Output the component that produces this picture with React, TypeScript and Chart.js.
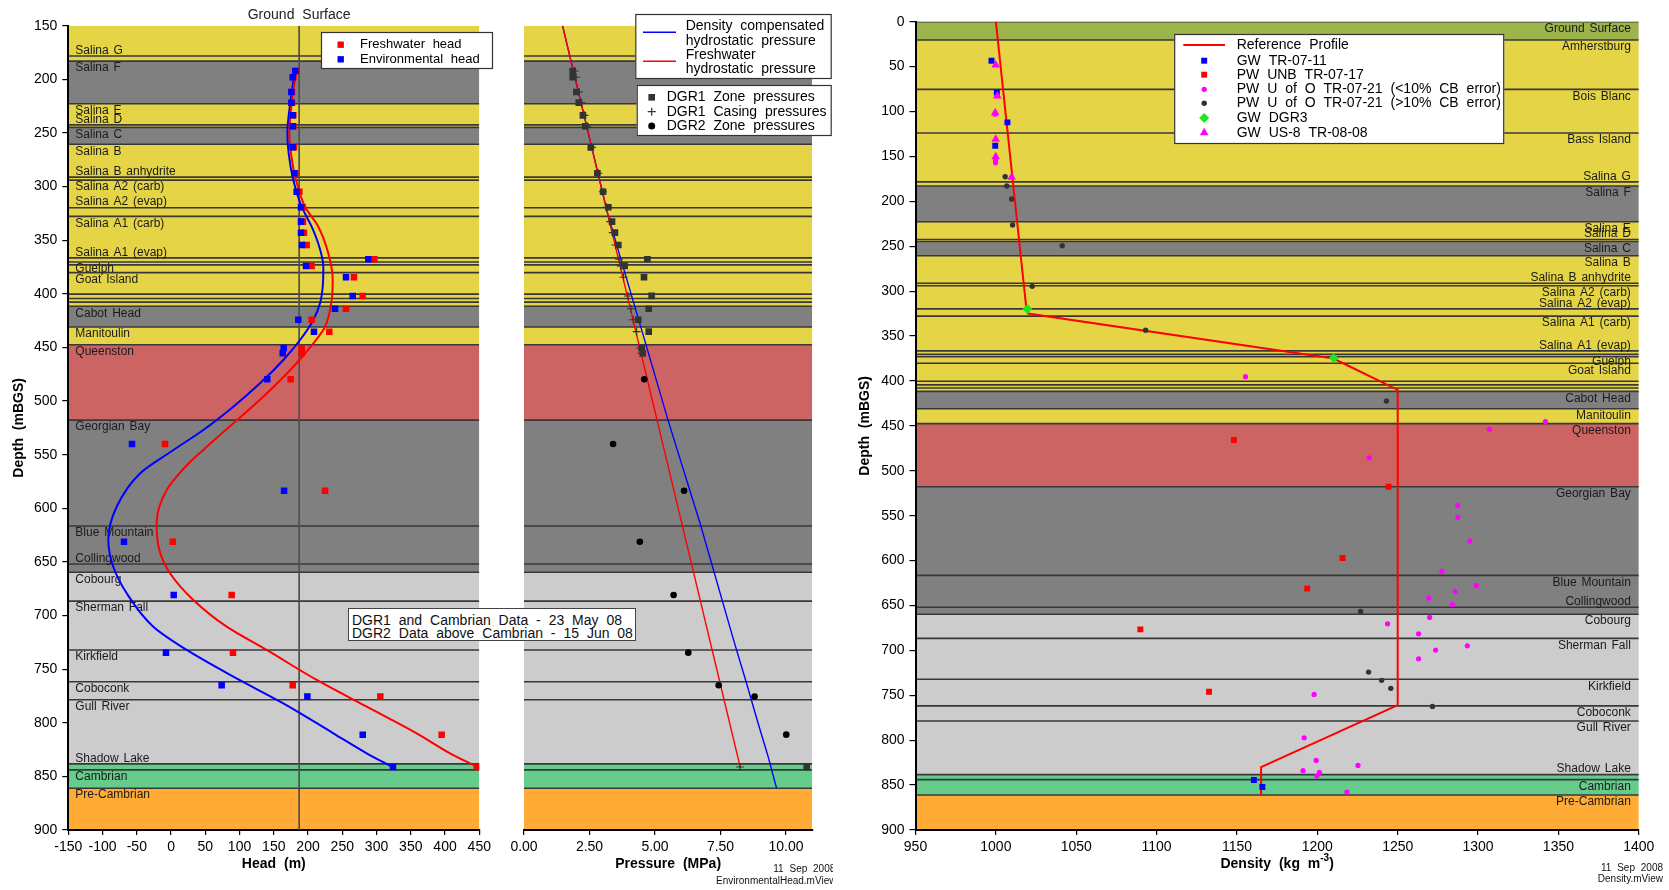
import React, { useEffect, useRef } from 'react';
import { Chart, registerables } from 'chart.js';

Chart.register(...registerables);

const FONT = '"Liberation Sans", Arial, Helvetica, sans-serif';
Chart.defaults.font.family = FONT;
Chart.defaults.color = '#111';

// ---------------- Stratigraphy (depth of layer top, mBGS) ----------------
const layerNames = ['Ground Surface', 'Amherstburg', 'Bois Blanc', 'Bass Island', 'Salina G', 'Salina F', 'Salina E', 'Salina D', 'Salina C', 'Salina B', 'Salina B anhydrite', 'Salina A2 (carb)', 'Salina A2 (evap)', 'Salina A1 (carb)', 'Salina A1 (evap)', 'Guelph', '', 'Goat Island', '', '', '', 'Cabot Head', 'Manitoulin', 'Queenston', 'Georgian Bay', 'Blue Mountain', 'Collingwood', 'Cobourg', 'Sherman Fall', 'Kirkfield', 'Coboconk', 'Gull River', 'Shadow Lake', 'Cambrian', 'Pre-Cambrian'];
const layerTops = [0, 20.4, 75.3, 124, 178.3, 183, 222.8, 242.5, 244.8, 260.6, 291.2, 294, 319.7, 327.8, 366.5, 370.4, 373, 380.3, 400.3, 404.4, 407.8, 411.6, 431, 447.5, 517.8, 616.5, 651.9, 659.7, 686.6, 732.1, 761.8, 778.6, 838.3, 843.9, 861];
const layerRock = ['surface', 'dolostone', 'dolostone', 'dolostone', 'dolostone', 'shale', 'dolostone', 'dolostone', 'shale', 'dolostone', 'dolostone', 'dolostone', 'dolostone', 'dolostone', 'dolostone', 'dolostone', 'dolostone', 'dolostone', 'dolostone', 'dolostone', 'dolostone', 'shale', 'dolostone', 'redshale', 'shale', 'shale', 'shale', 'limestone', 'limestone', 'limestone', 'limestone', 'limestone', 'sandstone', 'sandstone', 'precambrian'];

// ---------------- Head panel ----------------
const headAxisRange = [-150, 450];
const headDepthRange = [150, 900];
const groundSurfaceHead = 187;
const headDepths = [192.2, 198.1, 211.8, 221.8, 233.6, 243.8, 263.4, 287.6, 304.8, 319.3, 332.7, 343.0, 354.5, 367.8, 374.0, 384.6, 402.0, 413.9, 424.2, 435.3, 450.5, 455.5, 479.7, 540.0, 583.6, 631.2, 680.9, 734.6, 765.0, 775.6, 811.1, 841.3];
const freshwaterHead = [183.4, 178.5, 176.6, 176.6, 178.5, 178.5, 179.5, 181.5, 187.3, 192.2, 192.6, 194.0, 198.0, 296.8, 205.2, 267.0, 279.7, 255.4, 205.2, 231.0, 190.7, 190.7, 174.6, -8.8, 224.8, 2.4, 88.5, 90.4, 177.6, 305.5, 395.1, 446.2];
const environmentalHead = [181.4, 177.6, 175.6, 175.6, 177.6, 177.6, 177.6, 180.0, 183.4, 189.7, 189.7, 189.7, 191.2, 288.0, 197.0, 255.4, 265.2, 239.4, 185.8, 208.7, 164.4, 163.0, 140.5, -57.0, 165.0, -68.7, 3.9, -7.4, 73.9, 199.0, 279.8, 324.0];
const envCurveDepth = [191.3, 219.3, 250.3, 269, 293.9, 318.8, 337.4, 356.1, 374.7, 393.4, 408.9, 424.4, 443.1, 461.7, 483.5, 505.3, 527, 548, 567.5, 598.6, 629.6, 654.5, 679.3, 710.4, 732.1, 757, 781.9, 809.8, 828.5, 840.9];
const envCurveHead = [181, 174.6, 169.8, 171.7, 178.5, 190.7, 205.3, 216.4, 222.3, 221.4, 217.5, 207.7, 188.3, 163.9, 129.9, 90.9, 47.1, -2, -45.3, -79.4, -91.6, -84.3, -64.7, -25.9, 22.9, 90.9, 163.9, 236.9, 285.6, 322.1];
const fwCurveDepth = [191.3, 219.3, 250.3, 269, 293.9, 318.8, 337.4, 362.3, 387.2, 405.8, 430.7, 446.2, 468, 492.9, 520.8, 545.6, 558, 583, 614, 638.9, 660.6, 685.5, 710.4, 732.1, 760.1, 785, 809.8, 828.5, 840.9];
const fwCurveHead = [183.4, 176.6, 172.7, 175.1, 182.4, 195.6, 215, 229.6, 236, 234.5, 224.8, 207.7, 178.5, 139.6, 90.9, 47.1, 26, -6.4, -21, -17.1, -1.5, 32.5, 81.2, 139.6, 212.6, 285.6, 358.6, 407.3, 446.2];

// ---------------- Pressure panel ----------------
const pressureAxisRange = [0, 11];
const pressureTickMax = 10;
const fwPressureDepth = [150, 842];
const fwPressure = [1.47, 8.26];
const dcPressureDepth = [150, 325, 373, 411, 518, 614, 722, 762, 800, 830, 861];
const dcPressure = [1.47, 3.19, 3.76, 4.22, 5.50, 6.72, 7.99, 8.48, 8.93, 9.30, 9.64];
const dgr1ZoneDepth = [192.2, 198.1, 211.8, 221.8, 233.6, 243.8, 263.4, 287.6, 304.8, 319.3, 332.7, 343.0, 354.5, 367.8, 374.0, 384.6, 402.0, 413.9, 424.2, 435.3, 450.5, 455.5, 841.3];
const dgr1ZonePressure = [1.86, 1.86, 2.00, 2.09, 2.25, 2.34, 2.55, 2.80, 3.02, 3.22, 3.36, 3.47, 3.60, 4.71, 3.84, 4.58, 4.87, 4.76, 4.36, 4.76, 4.49, 4.53, 10.79];
const dgr1CasingDepth = [192.2, 198.1, 211.8, 221.8, 233.6, 243.8, 263.4, 287.6, 304.8, 319.3, 332.7, 343.0, 354.5, 367.8, 374.0, 384.6, 402.0, 413.9, 424.2, 435.3, 450.5, 455.5, 841.3];
const dgr1CasingPressure = [1.93, 1.99, 2.10, 2.20, 2.31, 2.41, 2.60, 2.84, 3.01, 3.15, 3.29, 3.39, 3.49, 3.63, 3.69, 3.80, 3.97, 4.08, 4.17, 4.30, 4.44, 4.48, 8.24];
const dgr2ZoneDepth = [479.7, 540.0, 583.6, 631.2, 680.9, 734.6, 765.0, 775.6, 811.1];
const dgr2ZonePressure = [4.59, 3.40, 6.11, 4.42, 5.71, 6.27, 7.43, 8.80, 10.01];

// ---------------- Density panel ----------------
const densityAxisRange = [950, 1400];
const densityDepthRange = [0, 900];
const refProfileDepth = [0, 320, 325, 375, 410, 761, 830, 861];
const refProfileDensity = [1000, 1019, 1020, 1210, 1250, 1250, 1165, 1165];
const gwTR0711Depth = [43.4, 79, 112.1, 138.1, 844.4, 852.2];
const gwTR0711Density = [997.3, 1000.6, 1007.2, 999.6, 1160.5, 1165.8];
const pwUNBDepth = [465.8, 517.8, 597.2, 631, 676.6, 746.1];
const pwUNBDensity = [1148.1, 1244.3, 1215.7, 1193.7, 1089.9, 1132.6];
const pwUoOLowDepth = [103, 154, 157, 395.3, 445.4, 453.9, 485.5, 538.9, 551.9, 578.3, 612, 628, 634.7, 641.8, 648.8, 663.3, 670.4, 681.5, 694.9, 699.7, 709.4, 749, 797.3, 822.5, 828.1, 834, 835.9, 840, 857.8];
const pwUoOLowDensity = [999.5, 999.8, 999.8, 1155.3, 1341.9, 1307.1, 1232.2, 1287.4, 1287.4, 1294.9, 1277.5, 1298.9, 1285.7, 1269.3, 1284.1, 1269.9, 1243.7, 1263, 1293.3, 1273.6, 1263, 1198, 1191.8, 1199.3, 1225.3, 1191.1, 1201.3, 1199.7, 1218.4];
const pwUoOHighDepth = [172.6, 183, 197.4, 226.4, 249.4, 294.7, 343.6, 422.4, 656.6, 724.2, 733.4, 742.3, 762.4];
const pwUoOHighDensity = [1005.8, 1006.8, 1009.8, 1010.4, 1041.3, 1022.6, 1093.2, 1243, 1226.9, 1231.9, 1240, 1245.7, 1271.6];
const gwDGR3Depth = [320, 374.8];
const gwDGR3Density = [1019.6, 1210.2];
const gwUS8Depth = [48.2, 82.7, 101.3, 131, 150.3, 173.3];
const gwUS8Density = [999.9, 1000.9, 999.6, 999.9, 999.9, 1009.8];

const annotationLines = ['DGR1 and Cambrian Data - 23 May 08', 'DGR2 Data above Cambrian - 15 Jun 08'];
const headStamp = ['11 Sep 2008', 'EnvironmentalHead.mView'];
const densityStamp = ['11 Sep 2008', 'Density.mView'];

// ---------------- styles ----------------
const rockColors: Record<string, string> = {
  surface: '#9DB34B',
  dolostone: '#E5D546',
  shale: '#808080',
  redshale: '#CC6464',
  limestone: '#CCCCCC',
  sandstone: '#66CC8C',
  precambrian: '#FFAB35',
};

const pts = (xs: number[], ys: number[]) => xs.map((x, i) => ({ x, y: ys[i] }));

function drawMarker(ctx: any, style: string, x: number, y: number, r: number, color: string, lw = 1.2) {
  ctx.save();
  ctx.fillStyle = color;
  ctx.strokeStyle = color;
  ctx.lineWidth = lw;
  ctx.beginPath();
  if (style === 'rect') {
    const s = r * Math.SQRT1_2;
    ctx.rect(x - s, y - s, 2 * s, 2 * s);
    ctx.fill();
  } else if (style === 'circle') {
    ctx.arc(x, y, r, 0, Math.PI * 2);
    ctx.fill();
  } else if (style === 'rectRot') {
    ctx.moveTo(x - r, y);
    ctx.lineTo(x, y - r);
    ctx.lineTo(x + r, y);
    ctx.lineTo(x, y + r);
    ctx.closePath();
    ctx.fill();
  } else if (style === 'triangle') {
    ctx.moveTo(x, y - r);
    ctx.lineTo(x + 0.866 * r, y + 0.5 * r);
    ctx.lineTo(x - 0.866 * r, y + 0.5 * r);
    ctx.closePath();
    ctx.fill();
  } else if (style === 'cross') {
    ctx.moveTo(x - r, y);
    ctx.lineTo(x + r, y);
    ctx.moveTo(x, y - r);
    ctx.lineTo(x, y + r);
    ctx.stroke();
  }
  ctx.restore();
}

function strataPlugin(labelMode: string | null) {
  return {
    id: 'strata',
    beforeDraw(chart: any) {
      const { ctx, chartArea: ca, scales } = chart;
      const y = scales.y;
      ctx.wordSpacing = '4px';
      ctx.save();
      ctx.beginPath();
      ctx.rect(ca.left, ca.top, ca.right - ca.left, ca.bottom - ca.top);
      ctx.clip();
      const n = layerTops.length;
      for (let i = 0; i < n; i++) {
        const t = layerTops[i];
        const b = i + 1 < n ? layerTops[i + 1] : y.max;
        const y0 = y.getPixelForValue(Math.max(t, y.min));
        const y1 = y.getPixelForValue(Math.min(b, y.max));
        if (y1 <= y0) continue;
        ctx.fillStyle = rockColors[layerRock[i]];
        ctx.fillRect(ca.left, y0, ca.right - ca.left, y1 - y0);
      }
      ctx.strokeStyle = '#383838';
      ctx.lineWidth = 1.6;
      for (let i = 0; i < n; i++) {
        const t = layerTops[i];
        if (t < y.min || t > y.max) continue;
        const py = y.getPixelForValue(t);
        ctx.beginPath();
        ctx.moveTo(ca.left, py);
        ctx.lineTo(ca.right, py);
        ctx.stroke();
      }
      if (labelMode) {
        ctx.font = `12px ${FONT}`;
        ctx.fillStyle = '#1a1a1a';
        ctx.textBaseline = 'middle';
        ctx.wordSpacing = '1.5px';
        ctx.textAlign = labelMode === 'left' ? 'left' : 'right';
        const lx = labelMode === 'left' ? ca.left + 7 : ca.right - 8;
        for (let i = 0; i < n; i++) {
          if (!layerNames[i]) continue;
          const t = layerTops[i];
          if (t < y.min) continue;
          let next = y.max;
          for (let j = i + 1; j < n; j++) {
            if (layerNames[j]) { next = layerTops[j]; break; }
          }
          const py = y.getPixelForValue(t);
          const ly = next - t < 9 ? py - 5.5 : py + 7;
          ctx.fillText(layerNames[i], lx, ly);
        }
      }
      ctx.restore();
    },
  };
}

const tickFont = { family: FONT, size: 14 };
const titleFont = { family: FONT, size: 14, weight: 'bold' as const };
const gridStyle = { display: true, drawOnChartArea: false, drawTicks: true, tickLength: 5, color: '#000', lineWidth: 1.2 };
const borderStyle = { display: true, color: '#000', width: 2 };

function baseOptions(padding: any) {
  return {
    responsive: false,
    animation: false as const,
    devicePixelRatio: 1,
    events: [] as any[],
    layout: { padding },
    plugins: { legend: { display: false }, tooltip: { enabled: false } },
  };
}

function makeHeadChart(canvas: HTMLCanvasElement) {
  const decor = {
    id: 'headDecor',
    afterDraw(chart: any) {
      const { ctx, scales } = chart;
      const gx = scales.x.getPixelForValue(groundSurfaceHead);
      ctx.save();
      ctx.font = `14px ${FONT}`;
      ctx.wordSpacing = '4px';
      ctx.fillStyle = '#222';
      ctx.textAlign = 'center';
      ctx.textBaseline = 'middle';
      ctx.fillText('Ground Surface', gx, 15);
      // legend
      ctx.fillStyle = '#fff';
      ctx.fillRect(321, 32, 172, 37);
      ctx.strokeStyle = '#333';
      ctx.lineWidth = 1.2;
      ctx.strokeRect(321.5, 32.5, 171, 36);
      const ds = chart.data.datasets;
      drawMarker(ctx, 'rect', 340.7, 44.7, 4.5, ds[1].backgroundColor);
      drawMarker(ctx, 'rect', 340.7, 59.3, 4.5, ds[0].backgroundColor);
      ctx.font = `13px ${FONT}`;
      ctx.fillStyle = '#000';
      ctx.textAlign = 'left';
      ctx.fillText(ds[1].label, 360, 44.7);
      ctx.fillText(ds[0].label, 360, 59.3);
      ctx.restore();
    },
  };
  return new Chart(canvas, {
    type: 'scatter',
    data: {
      datasets: [
        { label: 'Environmental head', data: pts(environmentalHead, headDepths), pointStyle: 'rect', pointRadius: 4.6, backgroundColor: '#0000FF', pointBorderWidth: 0, borderWidth: 0, order: 0 },
        { label: 'Freshwater head', data: pts(freshwaterHead, headDepths), pointStyle: 'rect', pointRadius: 4.6, backgroundColor: '#FF0000', pointBorderWidth: 0, borderWidth: 0, order: 1 },
        { type: 'line', indexAxis: 'y', label: 'Freshwater head fit', data: pts(fwCurveHead, fwCurveDepth), borderColor: '#FF0000', borderWidth: 2, pointRadius: 0, cubicInterpolationMode: 'monotone', fill: false, order: 2 },
        { type: 'line', indexAxis: 'y', label: 'Environmental head fit', data: pts(envCurveHead, envCurveDepth), borderColor: '#0000FF', borderWidth: 2, pointRadius: 0, cubicInterpolationMode: 'monotone', fill: false, order: 3 },
        { label: 'Ground Surface', data: pts([groundSurfaceHead, groundSurfaceHead], headDepthRange), showLine: true, borderColor: '#505050', borderWidth: 1.7, pointRadius: 0, order: 4 },
      ] as any,
    },
    options: {
      ...baseOptions({ left: 0, right: 20.7, top: 25.7, bottom: 0 }),
      scales: {
        x: {
          type: 'linear', position: 'bottom', min: headAxisRange[0], max: headAxisRange[1],
          ticks: { stepSize: 50, font: tickFont, color: '#000', padding: 4, autoSkip: false, maxRotation: 0, callback: (v: any) => String(v) },
          grid: gridStyle, border: borderStyle,
          title: { display: true, text: 'Head (m)', font: titleFont, color: '#000', padding: { top: 0, bottom: 17.3 } },
          afterFit: (s: any) => { s.height = 60; },
        },
        y: {
          type: 'linear', reverse: true, min: headDepthRange[0], max: headDepthRange[1],
          ticks: { stepSize: 50, font: tickFont, color: '#000', padding: 5, autoSkip: false, callback: (v: any) => String(v) },
          grid: { ...gridStyle, tickLength: 6 }, border: borderStyle,
          title: { display: true, text: 'Depth (mBGS)', font: titleFont, color: '#000', padding: { top: 10.6, bottom: 0 } },
          afterFit: (s: any) => { s.width = 68.3; },
        },
      },
    } as any,
    plugins: [strataPlugin('left'), decor],
  });
}

function makePressureChart(canvas: HTMLCanvasElement) {
  const decor = {
    id: 'pressureDecor',
    afterDraw(chart: any) {
      const { ctx } = chart;
      const ds = chart.data.datasets;
      ctx.save();
      ctx.wordSpacing = '4px';
      // legend 1
      ctx.fillStyle = '#fff';
      ctx.fillRect(145.3, 14, 196.4, 65);
      ctx.strokeStyle = '#333';
      ctx.lineWidth = 1.2;
      ctx.strokeRect(145.8, 14.5, 195.4, 64);
      ctx.lineWidth = 1.5;
      ctx.strokeStyle = ds[4].borderColor;
      ctx.beginPath(); ctx.moveTo(153, 32.3); ctx.lineTo(186, 32.3); ctx.stroke();
      ctx.strokeStyle = ds[3].borderColor;
      ctx.beginPath(); ctx.moveTo(153, 61.3); ctx.lineTo(186, 61.3); ctx.stroke();
      ctx.font = `14px ${FONT}`;
      ctx.fillStyle = '#000';
      ctx.textAlign = 'left';
      ctx.textBaseline = 'middle';
      ctx.fillText('Density compensated', 195.7, 26);
      ctx.fillText('hydrostatic pressure', 195.7, 40.7);
      ctx.fillText('Freshwater', 195.7, 55);
      ctx.fillText('hydrostatic pressure', 195.7, 69.3);
      // legend 2
      ctx.fillStyle = '#fff';
      ctx.fillRect(146.7, 85, 195, 51);
      ctx.strokeStyle = '#333';
      ctx.lineWidth = 1.2;
      ctx.strokeRect(147.2, 85.5, 194, 50);
      drawMarker(ctx, 'rect', 161.7, 97.3, 4.7, '#333333');
      drawMarker(ctx, 'cross', 161.7, 111.7, 4, '#333333', 1.2);
      drawMarker(ctx, 'circle', 161.7, 126, 3.5, '#000000');
      ctx.fillStyle = '#000';
      ctx.fillText(ds[0].label, 176.7, 97.3);
      ctx.fillText(ds[2].label, 176.7, 111.7);
      ctx.fillText(ds[1].label, 176.7, 126);
      // stamp
      ctx.font = `10px ${FONT}`;
      ctx.wordSpacing = '3px';
      ctx.fillStyle = '#111';
      ctx.fillText(headStamp[0], 283.3, 869.3);
      ctx.fillText(headStamp[1], 226, 881.7);
      ctx.restore();
    },
  };
  return new Chart(canvas, {
    type: 'scatter',
    data: {
      datasets: [
        { label: 'DGR1 Zone pressures', data: pts(dgr1ZonePressure, dgr1ZoneDepth), pointStyle: 'rect', pointRadius: 4.7, backgroundColor: '#333333', pointBorderWidth: 0, borderWidth: 0, order: 0 },
        { label: 'DGR2 Zone pressures', data: pts(dgr2ZonePressure, dgr2ZoneDepth), pointStyle: 'circle', pointRadius: 3.3, backgroundColor: '#000000', pointBorderWidth: 0, borderWidth: 0, order: 1 },
        { label: 'DGR1 Casing pressures', data: pts(dgr1CasingPressure, dgr1CasingDepth), pointStyle: 'cross', pointRadius: 4, borderColor: '#333333', pointBorderColor: '#333333', pointBorderWidth: 1.1, backgroundColor: '#333333', order: 2 },
        { label: 'Freshwater hydrostatic pressure', data: pts(fwPressure, fwPressureDepth), showLine: true, borderColor: '#FF0000', borderWidth: 1.4, pointRadius: 0, tension: 0, order: 3 },
        { label: 'Density compensated hydrostatic pressure', data: pts(dcPressure, dcPressureDepth), showLine: true, borderColor: '#0000FF', borderWidth: 1.4, pointRadius: 0, tension: 0, order: 4 },
      ] as any,
    },
    options: {
      ...baseOptions({ left: 34, right: 20.8, top: 25.7, bottom: 0 }),
      scales: {
        x: {
          type: 'linear', position: 'bottom', min: pressureAxisRange[0], max: pressureAxisRange[1],
          ticks: { stepSize: 2.5, font: tickFont, color: '#000', padding: 4, autoSkip: false, maxRotation: 0, callback: (v: any) => Number(v).toFixed(2) },
          afterBuildTicks: (s: any) => { s.ticks = s.ticks.filter((t: any) => t.value <= pressureTickMax); },
          grid: gridStyle, border: borderStyle,
          title: { display: true, text: 'Pressure (MPa)', font: titleFont, color: '#000', padding: { top: 0, bottom: 17.3 } },
          afterFit: (s: any) => { s.height = 60; },
        },
        y: {
          type: 'linear', reverse: true, display: false, min: headDepthRange[0], max: headDepthRange[1],
        },
      },
    } as any,
    plugins: [strataPlugin(null), decor],
  });
}

function makeDensityChart(canvas: HTMLCanvasElement) {
  const legendRows = [
    { style: 'line' }, { style: 'rect' }, { style: 'rect' }, { style: 'circle' }, { style: 'circle' }, { style: 'rectRot' }, { style: 'triangle' },
  ];
  const decor = {
    id: 'densityDecor',
    afterDraw(chart: any) {
      const { ctx, chartArea: ca } = chart;
      const ds = chart.data.datasets;
      ctx.save();
      ctx.wordSpacing = '4px';
      ctx.fillStyle = '#fff';
      ctx.fillRect(334.2, 34, 330, 110);
      ctx.strokeStyle = '#333';
      ctx.lineWidth = 1.2;
      ctx.strokeRect(334.7, 34.5, 329, 109);
      const rowY = [45, 60.7, 74.7, 89.3, 103.3, 118, 132.7];
      const legendOrder = [6, 2, 3, 4, 5, 0, 1];
      ctx.font = `14px ${FONT}`;
      ctx.textAlign = 'left';
      ctx.textBaseline = 'middle';
      legendOrder.forEach((di, r) => {
        const d = ds[di];
        const st = legendRows[r].style;
        if (st === 'line') {
          ctx.strokeStyle = d.borderColor;
          ctx.lineWidth = 2;
          ctx.beginPath(); ctx.moveTo(343.3, rowY[r]); ctx.lineTo(385, rowY[r]); ctx.stroke();
        } else {
          drawMarker(ctx, st, 364.2, rowY[r], d.pointRadius, d.backgroundColor);
        }
        ctx.fillStyle = '#000';
        ctx.fillText(d.label, 396.7, rowY[r]);
      });
      // x title with superscript
      const cx = (ca.left + ca.right) / 2;
      const ty = 864.3;
      ctx.font = `bold 14px ${FONT}`;
      const a = 'Density (kg m';
      const c = ')';
      const wa = ctx.measureText(a).width;
      const wc = ctx.measureText(c).width;
      ctx.font = `bold 10px ${FONT}`;
      const sup = '-3';
      const wb = ctx.measureText(sup).width;
      const start = cx - (wa + wb + wc) / 2;
      ctx.fillStyle = '#000';
      ctx.font = `bold 14px ${FONT}`;
      ctx.fillText(a, start, ty);
      ctx.font = `bold 10px ${FONT}`;
      ctx.fillText(sup, start + wa, ty - 6);
      ctx.font = `bold 14px ${FONT}`;
      ctx.fillText(c, start + wa + wb, ty);
      // stamp
      ctx.font = `10px ${FONT}`;
      ctx.wordSpacing = '3px';
      ctx.textAlign = 'right';
      ctx.fillStyle = '#111';
      ctx.fillText(densityStamp[0], 823, 868.3);
      ctx.fillText(densityStamp[1], 823, 879.3);
      ctx.restore();
    },
  };
  return new Chart(canvas, {
    type: 'scatter',
    data: {
      datasets: [
        { label: 'GW DGR3', data: pts(gwDGR3Density, gwDGR3Depth), pointStyle: 'rectRot', pointRadius: 5, backgroundColor: '#1EE61E', pointBorderWidth: 0, borderWidth: 0, order: 0 },
        { label: 'GW US-8 TR-08-08', data: pts(gwUS8Density, gwUS8Depth), pointStyle: 'triangle', pointRadius: 5, backgroundColor: '#FF00FF', pointBorderWidth: 0, borderWidth: 0, order: 1 },
        { label: 'GW TR-07-11', data: pts(gwTR0711Density, gwTR0711Depth), pointStyle: 'rect', pointRadius: 4.2, backgroundColor: '#0000FF', pointBorderWidth: 0, borderWidth: 0, order: 2 },
        { label: 'PW UNB TR-07-17', data: pts(pwUNBDensity, pwUNBDepth), pointStyle: 'rect', pointRadius: 4.2, backgroundColor: '#FF0000', pointBorderWidth: 0, borderWidth: 0, order: 3 },
        { label: 'PW U of O TR-07-21 (<10% CB error)', data: pts(pwUoOLowDensity, pwUoOLowDepth), pointStyle: 'circle', pointRadius: 2.6, backgroundColor: '#FF00FF', pointBorderWidth: 0, borderWidth: 0, order: 4 },
        { label: 'PW U of O TR-07-21 (>10% CB error)', data: pts(pwUoOHighDensity, pwUoOHighDepth), pointStyle: 'circle', pointRadius: 2.7, backgroundColor: '#333333', pointBorderWidth: 0, borderWidth: 0, order: 5 },
        { label: 'Reference Profile', data: pts(refProfileDensity, refProfileDepth), showLine: true, borderColor: '#FF0000', borderWidth: 2, pointRadius: 0, tension: 0, order: 6 },
      ] as any,
    },
    options: {
      ...baseOptions({ left: 0, right: 30.2, top: 21.7, bottom: 0 }),
      scales: {
        x: {
          type: 'linear', position: 'bottom', min: densityAxisRange[0], max: densityAxisRange[1],
          ticks: { stepSize: 50, font: tickFont, color: '#000', padding: 4, autoSkip: false, maxRotation: 0, callback: (v: any) => String(v) },
          grid: gridStyle, border: borderStyle,
          title: { display: false },
          afterFit: (s: any) => { s.height = 60; },
        },
        y: {
          type: 'linear', reverse: true, min: densityDepthRange[0], max: densityDepthRange[1],
          ticks: { stepSize: 50, font: tickFont, color: '#000', padding: 5, autoSkip: false, callback: (v: any) => String(v) },
          grid: { ...gridStyle, tickLength: 6 }, border: borderStyle,
          title: { display: true, text: 'Depth (mBGS)', font: titleFont, color: '#000', padding: { top: 16.6, bottom: 0 } },
          afterFit: (s: any) => { s.width = 75.5; },
        },
      },
    } as any,
    plugins: [strataPlugin('right'), decor],
  });
}

export default function App() {
  const refA = useRef<HTMLCanvasElement>(null);
  const refB = useRef<HTMLCanvasElement>(null);
  const refC = useRef<HTMLCanvasElement>(null);

  useEffect(() => {
    const charts = [
      makeHeadChart(refA.current as HTMLCanvasElement),
      makePressureChart(refB.current as HTMLCanvasElement),
      makeDensityChart(refC.current as HTMLCanvasElement),
    ];
    return () => charts.forEach((c) => c.destroy());
  }, []);

  return (
    <div style={{ position: 'fixed', left: 0, top: 0, width: 1669, height: 890, background: '#fff', overflow: 'hidden' }}>
      <canvas ref={refA} width={500} height={890} style={{ position: 'absolute', left: 0, top: 0, width: 500, height: 890 }} />
      <canvas ref={refB} width={343} height={890} style={{ position: 'absolute', left: 490, top: 0, width: 343, height: 890 }} />
      <canvas ref={refC} width={829} height={890} style={{ position: 'absolute', left: 840, top: 0, width: 829, height: 890 }} />
      <div
        style={{
          position: 'absolute', left: 348, top: 608, width: 288, height: 33, boxSizing: 'border-box',
          border: '1px solid #444', background: '#fff', color: '#111',
          font: `14px ${FONT}`, wordSpacing: '4px', lineHeight: '12.6px', padding: '5px 0 0 3px', whiteSpace: 'pre',
        }}
      >
        {annotationLines.join('\n')}
      </div>
    </div>
  );
}
